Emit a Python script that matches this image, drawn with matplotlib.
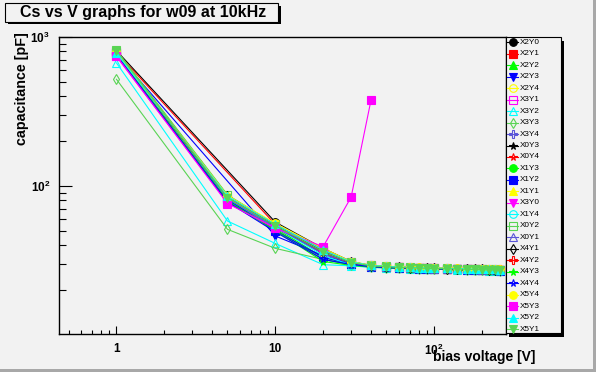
import numpy as np
import matplotlib.pyplot as plt
from matplotlib.patches import Rectangle
from matplotlib.ticker import LogLocator, NullFormatter

plt.rcParams['font.family'] = 'Liberation Sans'
plt.rcParams['mathtext.fontset'] = 'custom'
plt.rcParams['mathtext.bf'] = 'Liberation Sans:bold'
plt.rcParams['mathtext.rm'] = 'Liberation Sans'

# bias voltage points [V]
volts = [1, 5, 10, 20, 30, 40, 50, 60, 70, 80, 90, 100, 120, 140, 160, 180, 200, 220, 240, 260]

# capacitance [pF] per pad (None = no measurement at that voltage)
x2y0 = [810, None, 57, 38, 31.0, 29.0, 28.5, 28.3, 28.1, 28.0, 27.9, 27.8, 27.7, 27.6, 27.5, 27.4, 27.3, 27.2, 27.2, 27.1]
x2y1 = [790, None, 55, 37, 30.5, 29.0, 28.6, 28.4, 28.2, 28.1, 28.0, 27.9, 27.8, 27.7, 27.6, 27.5, 27.4, 27.3, 27.2, 27.2]
x2y2 = [780, 82, 52, 33, 29.8, 28.8, 28.4, 28.2, 28.0, 27.9, 27.8, 27.7, 27.6, 27.5, 27.4, 27.3, 27.2, 27.1, 27.1, 27.0]
x2y3 = [770, None, 46, 34, 30.2, 28.9, 28.5, 28.2, 28.0, 27.9, 27.8, 27.7, 27.6, 27.5, 27.4, 27.3, 27.2, 27.1, 27.0, 27.0]
x2y4 = [790, 84, 54, 36, 30.5, 29.0, 28.6, 28.3, 28.1, 28.0, 27.9, 27.8, 27.7, 27.6, 27.5, 27.4, 27.3, 27.3, 27.2, 27.1]
x3y1 = [750, 78, 52, 37, 30.8, 29.2, 28.7, 28.4, 28.2, 28.1, 28.0, 27.9, 27.7, 27.6, 27.5, 27.4, 27.3, 27.2, 27.1, 27.1]
x3y2 = [670, 58, 41, 29.5, 29.0, 28.3, 28.0, 27.9, 27.8, 27.7, 27.6, 27.5, 27.4, 27.3, 27.2, 27.1, 27.0, 26.9, 26.9, 26.8]
x3y3 = [520, 51, 38, 32, 29.6, 28.6, 28.2, 28.0, 27.9, 27.8, 27.7, 27.6, 27.5, 27.4, 27.3, 27.2, 27.1, 27.0, 27.0, 26.9]
x3y4 = [770, 80, 53, 35, 30.2, 28.9, 28.5, 28.2, 28.0, 27.9, 27.8, 27.7, 27.6, 27.5, 27.4, 27.3, 27.2, 27.1, 27.1, 27.0]
x0y3 = [800, 86, 55, 36, 30.4, 29.0, 28.6, 28.3, 28.1, 28.0, 27.9, 27.8, 27.7, 27.6, 27.5, 27.4, 27.3, 27.2, 27.2, 27.1]
x0y4 = [780, 83, 54, 35, 30.3, 28.9, 28.5, 28.2, 28.0, 27.9, 27.8, 27.7, 27.6, 27.5, 27.4, 27.3, 27.2, 27.0, 26.9, 26.8]
x1y3 = [790, 80, 51, 32, 29.5, 28.5, 28.2, 28.0, 27.8, 27.7, 27.6, 27.5, 27.4, 27.3, 27.2, 27.1, 27.0, 26.9, 26.9, 26.8]
x1y2 = [780, 81, 50, 33, 29.8, 28.7, 28.3, 28.0, 27.9, 27.8, 27.7, 27.6, 27.5, 27.4, 27.3, 27.2, 27.1, 27.0, 27.0, 26.9]
x1y1 = [785, 83, 54, 36, 30.6, 29.1, 28.7, 28.4, 28.2, 28.1, 28.0, 27.9, 27.8, 27.7, 27.6, 27.5, 27.4, 27.3, 27.3, 27.2]
x3y0 = [740, 77, 52, 36, 30.5, 29.0, 28.6, 28.3, 28.1, 28.0, 27.9, 27.8, 27.6, 27.5, 27.4, 27.3, 27.2, 27.2, 27.1, 27.0]
x1y4 = [760, 82, 53, 34, 29.4, 28.5, 28.2, 28.0, 27.8, 27.7, 27.6, 27.5, 27.4, 27.3, 27.2, 27.1, 27.0, 26.9, 26.9, 26.8]
x0y2 = [815, 87, 55, 37, 31.0, 29.2, 28.8, 28.5, 28.3, 28.2, 28.1, 28.0, 27.9, 27.8, 27.7, 27.6, 27.5, 27.4, 27.4, 27.3]
x0y1 = [790, 82, 53, 35, 30.4, 29.0, 28.6, 28.3, 28.1, 28.0, 27.9, 27.8, 27.7, 27.6, 27.5, 27.4, 27.3, 27.2, 27.2, 27.1]
x4y1 = [780, 85, 54, 36, 30.6, 29.1, 28.7, 28.4, 28.2, 28.1, 28.0, 27.9, 27.8, 27.7, 27.6, 27.5, 27.4, 27.3, 27.3, 27.2]
x4y2 = [775, 84, 55, 37, 30.8, 29.2, 28.8, 28.5, 28.3, 28.2, 28.1, 28.0, 27.9, 27.8, 27.7, 27.6, 27.5, 27.5, 27.4, 27.4]
x4y3 = [770, 79, 50, 31, 29.2, 28.4, 28.1, 27.9, 27.8, 27.7, 27.6, 27.5, 27.4, 27.3, 27.2, 27.1, 27.0, 26.9, 26.8, 26.8]
x4y4 = [760, 78, 49, 32, 29.6, 28.6, 28.2, 28.0, 27.9, 27.8, 27.7, 27.6, 27.5, 27.4, 27.3, 27.2, 27.1, 27.0, 26.9, 26.9]
x5y4 = [790, 86, 56, 38, 31.0, 29.3, 28.9, 28.6, 28.4, 28.3, 28.2, 28.1, 28.0, 27.9, 27.8, 27.7, 27.6, 27.5, 27.5, 27.4]
x5y3 = [745, 76, 52, 39, 84, 376]
x5y2 = [780, 85, 55, 37, 30.8, 29.2, 28.8, 28.5, 28.3, 28.2, 28.1, 28.0, 27.9, 27.8, 27.7, 27.6, 27.5, 27.4, 27.4, 27.3]
x5y1 = [810, 83, 54, 36, 30.5, 29.0, 28.6, 28.3, 28.1, 28.0, 27.9, 27.8, 27.7, 27.6, 27.5, 27.4, 27.3, 27.2, 27.2, 27.1]

labels = ['X2Y0', 'X2Y1', 'X2Y2', 'X2Y3', 'X2Y4', 'X3Y1', 'X3Y2', 'X3Y3', 'X3Y4',
          'X0Y3', 'X0Y4', 'X1Y3', 'X1Y2', 'X1Y1', 'X3Y0', 'X1Y4', 'X0Y2', 'X0Y1',
          'X4Y1', 'X4Y2', 'X4Y3', 'X4Y4', 'X5Y4', 'X5Y3', 'X5Y2', 'X5Y1']
series = [x2y0, x2y1, x2y2, x2y3, x2y4, x3y1, x3y2, x3y3, x3y4,
          x0y3, x0y4, x1y3, x1y2, x1y1, x3y0, x1y4, x0y2, x0y1,
          x4y1, x4y2, x4y3, x4y4, x5y4, x5y3, x5y2, x5y1]

# ROOT colours 1..9 and marker styles 20..30
root_cols = ['#000000', '#ff0000', '#00ff00', '#0000ff', '#ffff00',
             '#ff00ff', '#00ffff', '#59d454', '#5954d8']
root_marks = [('o', True), ('s', True), ('^', True), ('v', True), ('o', False),
              ('s', False), ('^', False), ('d', False), ('P', False), ('*', True), ('*', False)]

bg = '#f2f2f2'
W, H = 596, 372

fig = plt.figure(figsize=(W / 100, H / 100), dpi=100, facecolor=bg)
ax = fig.add_axes([59 / W, 1 - 334 / H, 447 / W, 297 / H], facecolor=bg)

def style(i):
    col = root_cols[i % 9]
    mk, filled = root_marks[i % 11]
    return dict(color=col, lw=0.8, marker=mk, ms=5.5,
                mfc=col if filled else 'none', mec=col, mew=0.8)

for i, cap in enumerate(series):
    pts = [(v, c) for v, c in zip(volts, cap) if c is not None]
    xs = [p[0] for p in pts]
    ys = [p[1] for p in pts]
    ax.plot(xs, ys, **style(i))

ax.set_xscale('log')
ax.set_yscale('log')
ax.set_xlim(0.435, 283)
ax.set_ylim(10.1, 1000)

ax.set_xticks([1, 10, 100])
ax.set_xticklabels(['1', '10', r'$\mathbf{10^{2}}$'], fontweight='bold', fontsize=8.5)
ax.set_yticks([100, 1000])
ax.set_yticklabels([r'$\mathbf{10^{2}}$', r'$\mathbf{10^{3}}$'], fontweight='bold', fontsize=8.5)
for a in (ax.xaxis, ax.yaxis):
    a.set_minor_locator(LogLocator(base=10, subs=np.arange(2, 10), numticks=20))
    a.set_minor_formatter(NullFormatter())

ax.tick_params(which='both', direction='in', top=False, right=False, width=0.8, pad=6.5)
ax.tick_params(axis='x', which='major', length=5.8)
ax.tick_params(axis='x', which='minor', length=2.6)
ax.tick_params(axis='y', which='major', length=9.4)
ax.tick_params(axis='y', which='minor', length=5)
for s in ax.spines.values():
    s.set_linewidth(1.0)

# overlay in pixel coordinates for title box, legend, axis titles
ov = fig.add_axes([0, 0, 1, 1])
ov.set_xlim(0, W)
ov.set_ylim(H, 0)
ov.axis('off')

ov.add_patch(Rectangle((8, 6), 273, 18, fc='black', ec='none'))
ov.add_patch(Rectangle((5, 3), 273, 19, fc=bg, ec='black', lw=0.8))
ov.text(20, 17.5, 'Cs vs V graphs for w09 at 10kHz', fontsize=11.5,
        fontweight='bold', ha='left', va='baseline')

ov.text(22, 32, 'capacitance [pF]', rotation=90, ha='center', va='top',
        fontsize=10.3, fontweight='bold')
ov.text(535, 357, 'bias voltage [V]', ha='right', va='center',
        fontsize=10, fontweight='bold')

# legend
ov.add_patch(Rectangle((509, 41), 55, 296, fc='black', ec='none'))
ov.add_patch(Rectangle((506, 37), 55, 296, fc=bg, ec='black', lw=0.8))
for i, lab in enumerate(labels):
    y = 42.3 + i * 11.47
    st = style(i)
    ov.plot([507, 518], [y, y], color=st['color'], lw=0.8)
    ov.plot([512.5], [y], ls='none', marker=st['marker'], ms=5.5,
            mfc=st['mfc'], mec=st['mec'], mew=0.8)
    ov.text(520, y, lab, fontsize=5.9, ha='left', va='center')

# canvas bevel
ov.add_patch(Rectangle((0, 369), W, 3, fc='#a8a8a8', ec='none'))
ov.add_patch(Rectangle((593, 0), 3, H, fc='#a8a8a8', ec='none'))

fig.savefig('out.png', dpi=100, facecolor=bg)
